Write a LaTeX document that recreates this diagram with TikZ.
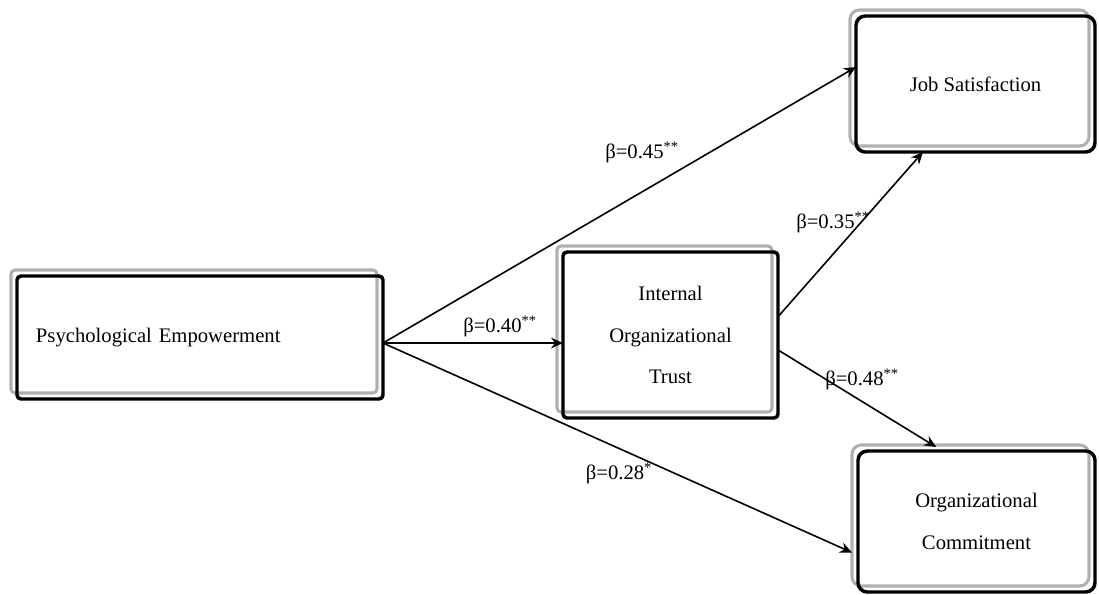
\documentclass[tikz,border=0pt]{standalone}
\usepackage{fontspec}
\setmainfont{Liberation Serif}
\usetikzlibrary{arrows.meta, positioning, calc, backgrounds}
\definecolor{frameGray}{HTML}{B0B0B0}
\tikzset{
  arrowK/.style={-{Stealth[length=9pt, width=8pt, inset=3pt]}, black, line width=1.2pt},
  boxM/.style={rectangle, rounded corners=3pt, draw=black, line width=2.6pt,
               align=center, inner sep=4pt, outer sep=0pt},
  frameG/.style={draw=frameGray, line width=2.3pt},
  lblB/.style={anchor=base, inner sep=0pt},
}
\begin{document}
\begin{tikzpicture}[x=0.75pt, y=-0.75pt, font=\fontsize{15.5}{31}\selectfont]
  \useasboundingbox (0,0) rectangle (1099,594);
  % boxes
  \node[boxM, minimum width=274.5pt, minimum height=92.25pt, text width=246pt,
        inner xsep=14.25pt, align=left] (pe) at (200,337.5) {Psychological Empowerment};
  \node[boxM, rounded corners=7pt, minimum width=179.25pt, minimum height=102pt] (js)
    at (975.5,84) {Job Satisfaction};
  \node[boxM, minimum width=161.25pt, minimum height=124.5pt] (iot)
    at (670.5,335) {Internal\\Organizational\\Trust};
  \node[boxM, rounded corners=7pt, minimum width=177.75pt, minimum height=105.75pt] (oc)
    at (976.5,521.5) {Organizational\\Commitment};
  % gray outer frames
  \begin{scope}[on background layer]
    \foreach \n/\r in {pe/3pt, js/7pt, iot/3pt, oc/7pt}
      \draw[frameG, rounded corners=\r] ($(\n.north west)+(-6,-6)$)
        rectangle ($(\n.south east)+(-6,-6)$);
  \end{scope}
  % paths
  \coordinate (src) at ($(pe.north east)!0.545!(pe.south east)$);
  \draw[arrowK] (src) -- ($(js.north west)!0.375!(js.south west)$);
  \draw[arrowK] (src) -- (src -| iot.west);
  \draw[arrowK] (src) -- ($(oc.north west)!0.72!(oc.south west)+(-6,0)$);
  \draw[arrowK] ($(iot.north east)!0.39!(iot.south east)$)
    -- ($(js.south west)!0.28!(js.south east)$);
  \draw[arrowK] ($(iot.north east)!0.59!(iot.south east)$)
    -- ($(oc.north west)!0.33!(oc.north east)+(0,-4)$);
  % coefficients
  \node[lblB] (b45) at (642,158) {β=0.45\textsuperscript{**}};
  \node[lblB] (b40) at (500,332) {β=0.40\textsuperscript{**}};
  \node[lblB] (b28) at (619,479) {β=0.28\textsuperscript{*}};
  \node[lblB] (b35) at (833,228) {β=0.35\textsuperscript{**}};
  \node[lblB] (b48) at (862,385) {β=0.48\textsuperscript{**}};
\end{tikzpicture}
\end{document}
